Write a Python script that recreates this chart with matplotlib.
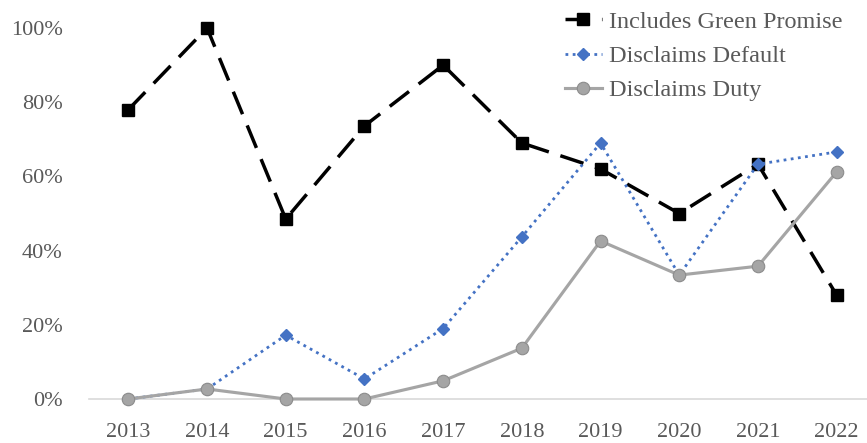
import matplotlib
matplotlib.use("Agg")
import matplotlib.pyplot as plt
from matplotlib.ticker import PercentFormatter

years = ["2013", "2014", "2015", "2016", "2017", "2018", "2019", "2020", "2021", "2022"]
green_promise = [0.78, 1.00, 0.485, 0.736, 0.90, 0.69, 0.62, 0.50, 0.633, 0.28]
disclaims_default = [0.0, 0.027, 0.172, 0.054, 0.19, 0.437, 0.69, 0.334, 0.633, 0.666]
disclaims_duty = [0.0, 0.027, 0.0, 0.0, 0.049, 0.137, 0.426, 0.334, 0.358, 0.612]

plt.rcParams['font.family'] = ['Liberation Serif', 'DejaVu Serif']
txt = '#595959'

fig = plt.figure(figsize=(8.67, 4.43), dpi=100)
ax = fig.add_axes([89/867, 1-399/443, 787/867, 371/443])
x = range(len(years))

ax.plot(x, green_promise, color='black', lw=2.5, ls=(0, (7, 3.5)), marker='s',
        ms=8, label='Includes Green Promise', clip_on=False, zorder=3)
ax.plot(x, disclaims_default, color='#4472C4', lw=2, ls=(0, (1, 1.6)), marker='D',
        ms=6, label='Disclaims Default', clip_on=False, zorder=4)
ax.plot(x, disclaims_duty, color='#A5A5A5', lw=2.25, marker='o', ms=9,
        mec='#8C8C8C', mew=0.8, label='Disclaims Duty', clip_on=False, zorder=5)

ax.set_xlim(-0.5, 9.5)
ax.set_ylim(0, 1.0)
ax.set_yticks([0, 0.2, 0.4, 0.6, 0.8, 1.0])
ax.yaxis.set_major_formatter(PercentFormatter(1.0, decimals=0))
ax.set_xticks(list(x))
ax.set_xticklabels(years)
for s in ['top', 'right', 'left']:
    ax.spines[s].set_visible(False)
ax.spines['bottom'].set_color('#D9D9D9')
ax.spines['bottom'].set_linewidth(1.2)
ax.tick_params(length=0, labelsize=16, colors=txt)
ax.tick_params(axis='x', pad=17)
ax.tick_params(axis='y', pad=19)

leg = ax.legend(loc='upper left', bbox_to_anchor=(0.605, 1.046), frameon=False,
                fontsize=17.5, handlelength=1.5, handletextpad=0.3, labelspacing=0.5,
                borderpad=0, borderaxespad=0)
for t in leg.get_texts():
    t.set_color(txt)

fig.savefig('out.png', dpi=100)
